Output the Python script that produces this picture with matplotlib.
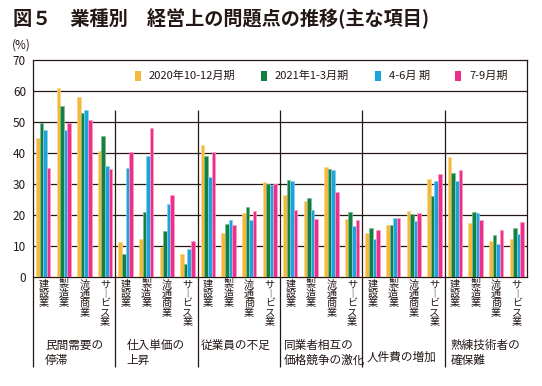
import matplotlib
matplotlib.use("Agg")
import matplotlib.pyplot as plt
import numpy as np

plt.rcParams['font.family'] = ['Noto Sans CJK JP', 'DejaVu Sans']

# ---- data ----
groups = ["民間需要の\n停滞", "仕入単価の\n上昇", "従業員の不足",
          "同業者相互の\n価格競争の激化", "人件費の増加", "熟練技術者の\n確保難"]
industries = ["建設業", "製造業", "流通商業", "サービス業"]
periods = ["2020年10-12月期", "2021年1-3月期", "4-6月 期", "7-9月期"]

# values ordered group by group, 4 industries each
p2020_10_12 = [44.7, 60.9, 58.0, 40.7,
               11.2, 12.2, 9.6, 7.3,
               42.5, 14.2, 20.4, 30.5,
               26.5, 24.4, 35.3, 18.6,
               14.0, 16.7, 21.1, 31.6,
               38.5, 17.3, 11.5, 12.2]
p2021_1_3 = [49.6, 55.1, 52.7, 45.4,
             7.3, 20.9, 14.6, 4.1,
             38.8, 17.0, 22.5, 29.9,
             31.2, 25.3, 34.8, 20.9,
             15.7, 16.6, 20.1, 26.1,
             33.5, 20.9, 13.5, 15.8]
p2021_4_6 = [47.3, 47.3, 53.8, 35.6,
             35.0, 39.0, 23.5, 8.8,
             32.1, 18.4, 18.3, 29.5,
             30.9, 21.5, 34.5, 16.5,
             12.2, 18.9, 18.0, 30.8,
             30.9, 20.5, 10.6, 13.7]
p2021_7_9 = [35.0, 49.5, 50.7, 34.6,
             40.1, 48.1, 26.5, 11.5,
             40.1, 16.7, 21.2, 29.9,
             21.4, 18.5, 27.3, 18.2,
             15.0, 18.8, 20.5, 33.1,
             34.4, 18.4, 15.2, 17.6]
series = [p2020_10_12, p2021_1_3, p2021_4_6, p2021_7_9]

yticks = [0, 10, 20, 30, 40, 50, 60, 70]

# ---- style ----
colors = ["#F6B83C", "#13803F", "#1AA3DC", "#EE2E8B"]
edges = ["#FAD68A", "#7DB894", "#8CCFEC", "#F6A0C6"]
ink = "#231815"
W, H = 542, 386

fig = plt.figure(figsize=(W / 100, H / 100), dpi=100)
x0, x1, ytop, ybot = 33, 527, 59.7, 276.7
ax = fig.add_axes([x0 / W, 1 - ybot / H, (x1 - x0) / W, (ybot - ytop) / H])

ng, ni = len(groups), len(industries)
base = np.array([g * ni + i + 0.5 for g in range(ng) for i in range(ni)])
bw = 0.175
for k, vals in enumerate(series):
    ax.bar(base + (k - 1.5) * bw, vals, width=bw, color=colors[k],
           edgecolor=edges[k], linewidth=0.5, label=periods[k], zorder=3)

ax.set_xlim(0, ng * ni)
ax.set_ylim(0, 70)
ax.set_yticks(yticks)
ax.set_yticklabels([str(t) for t in yticks], fontsize=8.5, color=ink)
ax.tick_params(axis='y', length=0, pad=5)
ax.set_xticks([])
for t in yticks[1:-1]:
    ax.axhline(t, color=ink, lw=0.9, zorder=1)
for s in ['top', 'right', 'bottom']:
    ax.spines[s].set_color(ink)
    ax.spines[s].set_linewidth(0.9)
ax.spines['left'].set_visible(False)

# extended left line and group separators
ylow = (ybot - 367) / ((ybot - ytop) / 70)
ax.vlines([0], ylow, 70, color=ink, lw=0.9, clip_on=False, zorder=4)
ax.vlines([g * ni for g in range(1, ng)], ylow, 53.8, color=ink, lw=0.9,
          clip_on=False, zorder=4)

# vertical industry labels
xtr = ax.get_xaxis_transform()
for g in range(ng):
    for i, name in enumerate(industries):
        vt = "\n".join(name.replace("ー", "︱"))
        ax.text(g * ni + i + 0.5, -0.012, vt, transform=xtr, ha='center',
                va='top', fontsize=7.3, linespacing=0.93, color=ink)

# group labels
gx = [45, 126.5, 200.5, 284, 367, 450.5]
gy = [339, 339, 339, 339, 351, 339]
for g, lab in enumerate(groups):
    fig.text(gx[g] / W, 1 - gy[g] / H, lab, ha='left', va='top',
             fontsize=8.4, linespacing=1.2, color=ink)

# legend
leg = ax.legend(loc='center left', bbox_to_anchor=(135 / W, 1 - 76 / H),
                bbox_transform=fig.transFigure, ncol=4, frameon=False,
                fontsize=8, handlelength=0.55, handleheight=1.0,
                handletextpad=0.7, columnspacing=2.3, borderpad=0,
                borderaxespad=0)
for t in leg.get_texts():
    t.set_color(ink)
for h in leg.legend_handles:
    h.set_linewidth(0)

fig.text(12 / W, 1 - 45 / H, "(%)", fontsize=8.5, ha='left', va='center', color=ink)
fig.text(13 / W, 1 - 19 / H, "図５　業種別　経営上の問題点の推移(主な項目)",
         fontsize=13.8, fontweight='bold', ha='left', va='center', color=ink)

fig.savefig("out.png", dpi=100)
